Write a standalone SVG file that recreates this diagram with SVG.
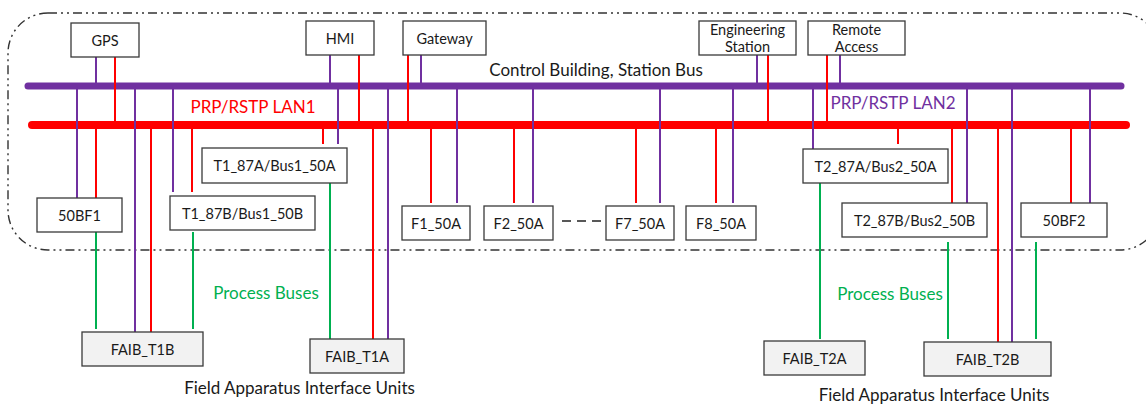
<svg xmlns="http://www.w3.org/2000/svg" width="1146" height="406" viewBox="0 0 1146 406">
<style>
text{font-family:Lato,"Liberation Sans",sans-serif;fill:#1a1a1a;text-anchor:middle;dominant-baseline:central}
.n{font-size:14.5px}
.box{fill:#fff;stroke:#3a3a3a;stroke-width:1.3}
.fb{fill:#f2f2f2;stroke:#3a3a3a;stroke-width:1.3}
.p{stroke:#7030a0;stroke-width:2}
.r{stroke:#ff0000;stroke-width:2}
.g{stroke:#00b050;stroke-width:2}
.lbl{font-size:17px}
</style>
<rect x="8" y="13" width="1152" height="237" rx="40" ry="40" fill="none" stroke="#333" stroke-width="1.4" stroke-dasharray="9 4 2 4 2 4"/>
<g id="buses">
<line x1="28" y1="86" x2="1121" y2="86" stroke="#7030a0" stroke-width="7" stroke-linecap="round"/>
<line x1="32" y1="125" x2="1126" y2="125" stroke="#ff0000" stroke-width="8" stroke-linecap="round"/>
</g>
<g id="connectors">
<g class="p">
<line x1="96" y1="57" x2="96" y2="86"/>
<line x1="330" y1="55" x2="330" y2="86"/>
<line x1="421" y1="55" x2="421" y2="86"/>
<line x1="757" y1="55" x2="757" y2="86"/>
<line x1="840" y1="55" x2="840" y2="86"/>
<line x1="77" y1="86" x2="77" y2="198"/>
<line x1="135" y1="86" x2="135" y2="332"/>
<line x1="173" y1="86" x2="173" y2="192"/>
<line x1="338" y1="86" x2="338" y2="144"/>
<line x1="388" y1="86" x2="388" y2="339"/>
<line x1="457" y1="86" x2="457" y2="203"/>
<line x1="533" y1="86" x2="533" y2="203"/>
<line x1="660" y1="86" x2="660" y2="203"/>
<line x1="733" y1="86" x2="733" y2="203"/>
<line x1="813" y1="86" x2="813" y2="149"/>
<line x1="967" y1="86" x2="967" y2="203"/>
<line x1="1012" y1="86" x2="1012" y2="342"/>
<line x1="1090" y1="86" x2="1090" y2="203"/>
</g>
<g class="r">
<line x1="115" y1="57" x2="115" y2="125"/>
<line x1="359" y1="55" x2="359" y2="125"/>
<line x1="408" y1="55" x2="408" y2="125"/>
<line x1="768" y1="55" x2="768" y2="125"/>
<line x1="827" y1="52" x2="827" y2="125"/>
<line x1="96" y1="125" x2="96" y2="198"/>
<line x1="151" y1="125" x2="151" y2="332"/>
<line x1="192" y1="125" x2="192" y2="192"/>
<line x1="323" y1="125" x2="323" y2="144"/>
<line x1="373" y1="125" x2="373" y2="339"/>
<line x1="431" y1="125" x2="431" y2="203"/>
<line x1="514" y1="125" x2="514" y2="203"/>
<line x1="636" y1="125" x2="636" y2="203"/>
<line x1="716" y1="125" x2="716" y2="203"/>
<line x1="898" y1="125" x2="898" y2="144"/>
<line x1="952" y1="125" x2="952" y2="203"/>
<line x1="998" y1="125" x2="998" y2="342"/>
<line x1="1071" y1="125" x2="1071" y2="203"/>
</g>
<g class="g">
<line x1="96" y1="232" x2="96" y2="329"/>
<line x1="193" y1="232" x2="193" y2="329"/>
<line x1="330" y1="183" x2="330" y2="339"/>
<line x1="820" y1="183" x2="820" y2="339"/>
<line x1="948" y1="242" x2="948" y2="339"/>
<line x1="1036" y1="242" x2="1036" y2="339"/>
</g>
<line x1="562" y1="221" x2="602" y2="221" stroke="#222" stroke-width="1.4" stroke-dasharray="9 6"/>
</g>
<g id="gps"><rect class="box" x="71" y="23" width="68" height="34"/><text class="n" x="105" y="40">GPS</text></g>
<g id="hmi"><rect class="box" x="306" y="21" width="68" height="34"/><text class="n" x="340" y="38">HMI</text></g>
<g id="gateway"><rect class="box" x="403" y="21" width="83" height="34"/><text class="n" x="444.5" y="38">Gateway</text></g>
<g id="eng"><rect class="box" x="699" y="21" width="97" height="34"/><text class="n" x="747.5" y="29">Engineering</text><text class="n" x="747.5" y="46">Station</text></g>
<g id="remote"><rect class="box" x="808" y="21" width="97" height="34"/><text class="n" x="856.5" y="29">Remote</text><text class="n" x="856.5" y="46">Access</text></g>
<g id="bf1"><rect class="box" x="37" y="198" width="85" height="34"/><text class="n" x="79.5" y="215">50BF1</text></g>
<g id="t1a"><rect class="box" x="202" y="148" width="145" height="35"/><text class="n" x="274.5" y="165.5">T1_87A/Bus1_50A</text></g>
<g id="t1b"><rect class="box" x="170" y="196" width="145" height="34"/><text class="n" x="242.5" y="213">T1_87B/Bus1_50B</text></g>
<g id="f1"><rect class="box" x="402" y="206" width="68" height="34"/><text class="n" x="436" y="223">F1_50A</text></g>
<g id="f2"><rect class="box" x="484" y="206" width="69" height="34"/><text class="n" x="518.5" y="223">F2_50A</text></g>
<g id="f7"><rect class="box" x="606" y="206" width="68" height="34"/><text class="n" x="640" y="223">F7_50A</text></g>
<g id="f8"><rect class="box" x="686" y="206" width="70" height="34"/><text class="n" x="721" y="223">F8_50A</text></g>
<g id="t2a"><rect class="box" x="803" y="149" width="145" height="34"/><text class="n" x="875.5" y="166">T2_87A/Bus2_50A</text></g>
<g id="t2b"><rect class="box" x="842" y="203" width="145" height="34"/><text class="n" x="914.5" y="220">T2_87B/Bus2_50B</text></g>
<g id="bf2"><rect class="box" x="1021" y="203" width="86" height="34"/><text class="n" x="1064" y="220">50BF2</text></g>
<g id="faib_t1b"><rect class="fb" x="82" y="332" width="121" height="34"/><text class="n" x="142.5" y="349">FAIB_T1B</text></g>
<g id="faib_t1a"><rect class="fb" x="310" y="339" width="94" height="34"/><text class="n" x="357" y="356">FAIB_T1A</text></g>
<g id="faib_t2a"><rect class="fb" x="764" y="341" width="101" height="34"/><text class="n" x="814.5" y="358">FAIB_T2A</text></g>
<g id="faib_t2b"><rect class="fb" x="924" y="342" width="127" height="34"/><text class="n" x="987.5" y="359">FAIB_T2B</text></g>
<g id="labels">
<text class="lbl" x="596" y="69">Control Building, Station Bus</text>
<text class="lbl" x="253" y="106" style="fill:#ff0000">PRP/RSTP LAN1</text>
<text class="lbl" x="893" y="102" style="fill:#7030a0">PRP/RSTP LAN2</text>
<text class="lbl" x="266" y="292" style="fill:#00b050">Process Buses</text>
<text class="lbl" x="890" y="293" style="fill:#00b050">Process Buses</text>
<text class="lbl" x="299.5" y="387">Field Apparatus Interface Units</text>
<text class="lbl" x="934" y="394">Field Apparatus Interface Units</text>
</g>
</svg>
